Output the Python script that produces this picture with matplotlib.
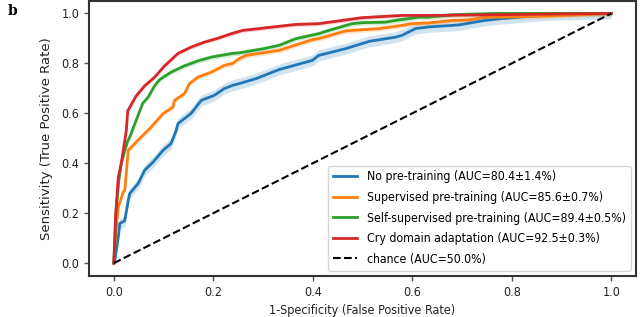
import numpy as np
import matplotlib
matplotlib.use("Agg")
import matplotlib.pyplot as plt

# ROC curves (FPR, TPR)
blue_x = [0, 0.002, 0.009, 0.012, 0.022, 0.029, 0.032, 0.049, 0.059, 0.062, 0.079, 0.082, 0.099, 0.115, 0.125, 0.129,
          0.155, 0.176, 0.202, 0.222, 0.239, 0.252, 0.286, 0.332, 0.399, 0.412, 0.466, 0.513, 0.566, 0.579, 0.606,
          0.633, 0.68, 0.693, 0.746, 0.773, 0.813, 0.88, 1.0]
blue_y = [0, 0.012, 0.105, 0.159, 0.17, 0.252, 0.279, 0.319, 0.36, 0.372, 0.405, 0.412, 0.452, 0.479, 0.53, 0.559,
          0.599, 0.652, 0.672, 0.699, 0.712, 0.719, 0.739, 0.775, 0.812, 0.832, 0.859, 0.888, 0.905, 0.912, 0.939,
          0.946, 0.952, 0.954, 0.972, 0.978, 0.985, 0.995, 1.0]

orange_x = [0, 0.003, 0.009, 0.019, 0.022, 0.025, 0.029, 0.042, 0.055, 0.062, 0.075, 0.099, 0.119, 0.122, 0.142,
            0.152, 0.169, 0.196, 0.222, 0.239, 0.252, 0.266, 0.332, 0.399, 0.412, 0.466, 0.479, 0.533, 0.579,
            0.599, 0.633, 0.68, 0.713, 0.746, 0.773, 0.88, 1.0]
orange_y = [0, 0.1, 0.225, 0.285, 0.292, 0.36, 0.452, 0.479, 0.505, 0.519, 0.545, 0.599, 0.625, 0.652, 0.679,
            0.719, 0.745, 0.765, 0.792, 0.80, 0.819, 0.832, 0.852, 0.895, 0.899, 0.93, 0.932, 0.939, 0.952,
            0.959, 0.962, 0.972, 0.974, 0.985, 0.985, 0.99, 1.0]

green_x = [0, 0.004, 0.01, 0.015, 0.022, 0.028, 0.032, 0.058, 0.069, 0.082, 0.092, 0.115, 0.142, 0.169, 0.196,
           0.239, 0.252, 0.299, 0.332, 0.366, 0.412, 0.432, 0.479, 0.499, 0.546, 0.566, 0.613, 0.633, 0.68,
           0.766, 1.0]
green_y = [0, 0.2, 0.33, 0.40, 0.45, 0.49, 0.505, 0.64, 0.665, 0.71, 0.735, 0.765, 0.79, 0.81, 0.825,
           0.84, 0.842, 0.858, 0.872, 0.899, 0.919, 0.932, 0.959, 0.963, 0.965, 0.972, 0.985, 0.985, 0.995,
           1.0, 1.0]

red_x = [0, 0.004, 0.009, 0.015, 0.025, 0.028, 0.045, 0.062, 0.082, 0.102, 0.129, 0.155, 0.182, 0.208, 0.238,
         0.259, 0.366, 0.412, 0.499, 0.579, 0.633, 0.68, 1.0]
red_y = [0, 0.2, 0.345, 0.40, 0.53, 0.61, 0.67, 0.71, 0.745, 0.79, 0.84, 0.865, 0.885, 0.90, 0.92,
         0.932, 0.956, 0.959, 0.983, 0.992, 0.992, 0.993, 1.0]

blue_err = 0.022
orange_err = 0.01
green_err = 0.01
red_err = 0.008

labels = ["No pre-training (AUC=80.4\u00b11.4%)",
          "Supervised pre-training (AUC=85.6\u00b10.7%)",
          "Self-supervised pre-training (AUC=89.4\u00b10.5%)",
          "Cry domain adaptation (AUC=92.5\u00b10.3%)",
          "chance (AUC=50.0%)"]
colors = ["#1f77b4", "#ff7f0e", "#2ca02c", "#d62728"]

fig = plt.figure(figsize=(6.4, 3.17), dpi=100)
ax = fig.add_axes([0.139, 0.129, 0.855, 0.868])

series = [(blue_x, blue_y, blue_err), (orange_x, orange_y, orange_err),
          (green_x, green_y, green_err), (red_x, red_y, red_err)]
for (xs, ys, e), c, lab in zip(series, colors, labels[:4]):
    xs = np.array(xs); ys = np.array(ys)
    lo = np.clip(ys - e, 0, 1); hi = np.clip(ys + e, 0, 1)
    ax.fill_between(xs, lo, hi, color=c, alpha=0.2, lw=0)
    ax.plot(xs, ys, color=c, lw=2, label=lab)
ax.plot([0, 1], [0, 1], "k--", lw=1.5, label=labels[4])

ax.set_xlim(-0.05, 1.05)
ax.set_ylim(-0.052, 1.05)
ax.set_xticks([0, 0.2, 0.4, 0.6, 0.8, 1.0])
ax.set_yticks([0, 0.2, 0.4, 0.6, 0.8, 1.0])
ax.tick_params(length=3.5, width=1, color="#555555", labelcolor="#222222")
for lbl in ax.get_xticklabels() + ax.get_yticklabels():
    lbl.set_fontsize(9)
    lbl.set_fontstretch("condensed")
for s in ax.spines.values():
    s.set_linewidth(1.5)
    s.set_color("#333333")
ax.set_xlabel("1-Specificity (False Positive Rate)", fontsize=9, fontstretch="condensed", color="#222222")
ax.set_ylabel("Sensitivity (True Positive Rate)", fontsize=9.5, color="#222222", labelpad=6)
leg = ax.legend(loc="lower right", prop={"size": 8.8, "stretch": "condensed"}, frameon=True,
                fancybox=True, framealpha=0.8, labelspacing=0.62, borderaxespad=0.45)
fig.text(0.012, 0.965, "b", fontsize=10, fontweight="bold", family="DejaVu Serif", va="center")
fig.savefig("out.png", dpi=100)
